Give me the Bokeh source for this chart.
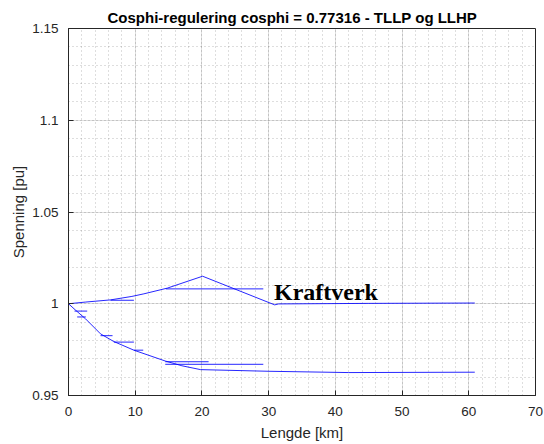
from bokeh.plotting import figure
from bokeh.models import (Range1d, FixedTicker, Label, Title,
                          CustomJSTickFormatter)
from bokeh.embed import file_html
from bokeh.resources import INLINE

# Voltage profile along the feeder (km, pu)
upper_km = [0, 2.5, 6.3, 9.5, 11.3, 14.8, 20.1, 30.9, 31.5, 45.0, 60.9]
upper_pu = [1.0, 1.0009, 1.0021, 1.0040, 1.0054, 1.0085, 1.0150, 0.9994, 0.9999, 1.0002, 1.0004]

lower_km = [0, 1.0, 2.55, 4.8, 6.8, 9.8, 14.5, 17.0, 19.8, 30.0, 42.0, 60.9]
lower_pu = [1.0, 0.9967, 0.9918, 0.9836, 0.9794, 0.9747, 0.9688, 0.9662, 0.9641, 0.9632, 0.9625, 0.9627]

# Side branches: start km, end km, voltage
branch_up_km0 = [6.3, 14.6]
branch_up_km1 = [9.8, 29.2]
branch_up_pu = [1.0019, 1.0081]

branch_lo_km0 = [0.9, 1.3, 4.8, 6.8, 9.8, 14.5, 14.5]
branch_lo_km1 = [2.8, 2.6, 6.6, 9.8, 11.2, 21.0, 29.2]
branch_lo_pu = [0.9960, 0.9928, 0.9826, 0.9791, 0.9747, 0.9684, 0.9670]

x_ticks = [0, 10, 20, 30, 40, 50, 60, 70]
x_minor = [v * 2 for v in range(36)]
y_ticks = [0.95, 1.0, 1.05, 1.1, 1.15]
y_minor = [round(0.95 + i * 0.01, 2) for i in range(21)]

FONT = "Liberation Sans"
DARK = "#262626"
LINE = "#0000ff"

p = figure(width=544, height=444, output_backend="svg", toolbar_location=None,
           x_range=Range1d(0, 70), y_range=Range1d(0.95, 1.15),
           min_border_left=68, min_border_right=9, min_border_top=28,
           min_border_bottom=49, background_fill_color="white",
           border_fill_color="white", outline_line_color=DARK,
           outline_line_width=1)

p.title = Title(text="Cosphi-regulering cosphi = 0.77316 - TLLP og LLHP",
                text_font=FONT, text_font_size="15px", text_font_style="bold",
                text_color="black", align="left", offset=39, standoff=6)

xt = FixedTicker(ticks=x_ticks, minor_ticks=x_minor)
yt = FixedTicker(ticks=y_ticks, minor_ticks=y_minor)
fmt = CustomJSTickFormatter(code="return tick.toFixed(2).replace(/0+$/,'').replace(/\\.$/,'');")

for ax in p.xaxis:
    ax.ticker = xt
for ax in p.yaxis:
    ax.ticker = yt
    ax.formatter = fmt

for ax in list(p.xaxis) + list(p.yaxis):
    ax.major_tick_in = 5
    ax.major_tick_out = 0
    ax.minor_tick_line_color = None
    ax.axis_line_color = DARK
    ax.major_tick_line_color = DARK
    ax.major_label_text_font = FONT
    ax.major_label_text_font_size = "13.5px"
    ax.major_label_text_color = DARK
    ax.axis_label_text_font = FONT
    ax.axis_label_text_font_size = "15px"
    ax.axis_label_text_font_style = "normal"
    ax.axis_label_text_color = DARK

p.xaxis.axis_label = "Lengde [km]"
p.xaxis.major_label_standoff = 7
p.xaxis.axis_label_standoff = 5
p.yaxis.axis_label = "Spenning [pu]"
p.yaxis.major_label_standoff = 6
p.yaxis.axis_label_standoff = 2

p.xgrid.ticker = xt
p.ygrid.ticker = yt
for g in (p.xgrid, p.ygrid):
    g.grid_line_color = DARK
    g.grid_line_alpha = 0.15
    g.minor_grid_line_color = DARK
    g.minor_grid_line_alpha = 0.3
    g.minor_grid_line_dash = "1 3"

style = dict(line_color=LINE, line_width=1, line_alpha=0.85)
p.line(upper_km, upper_pu, **style)
p.line(lower_km, lower_pu, **style)
p.segment(x0=branch_up_km0, y0=branch_up_pu, x1=branch_up_km1, y1=branch_up_pu, **style)
p.segment(x0=branch_lo_km0, y0=branch_lo_pu, x1=branch_lo_km1, y1=branch_lo_pu, **style)

p.add_layout(Label(x=30.8, y=1.0065, text="Kraftverk", text_font="Liberation Serif",
                   text_font_size="24px", text_font_style="bold",
                   text_color="black", text_baseline="alphabetic"))

open("out.html", "w").write(file_html(p, INLINE))
